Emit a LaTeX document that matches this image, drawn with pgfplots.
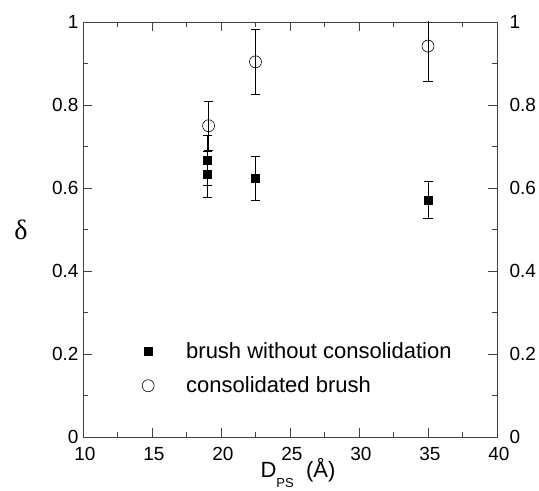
\documentclass[border=0pt]{standalone}
\usepackage{pgfplots}
\pgfplotsset{compat=1.18}
\usepackage{fontspec}
\setmainfont{Liberation Sans}
\newfontfamily\seriffont{Liberation Serif}

\pgfplotstableread{
x y e
19 0.667 0.060
19 0.633 0.056
22.5 0.623 0.053
35 0.571 0.044
}\brush
\pgfplotstableread{
x y e
19.1 0.750 0.060
22.5 0.904 0.078
35 0.942 0.085
}\consol

\begin{document}
\begin{tikzpicture}
\useasboundingbox (-83bp,-54bp) rectangle (456bp,437bp);
\begin{axis}[
  at={(0,0)}, anchor=south west,
  scale only axis, width=414bp, height=415bp,
  xmin=10, xmax=40, ymin=0, ymax=1,
  xtick={10,15,20,25,30,35,40},
  ytick={0,0.2,0.4,0.6,0.8,1},
  minor x tick num=1, minor y tick num=1,
  tick align=inside,
  major tick length=9bp, minor tick length=5bp,
  axis line style={black!75, line width=0.6bp},
  tick style={black!75, line width=0.6bp},
  ticklabel style={font=\fontsize{19bp}{21bp}\selectfont},
  /pgf/number format/assume math mode=true,
  xticklabel style={yshift=-7bp, xshift=2bp},
  yticklabel style={xshift=-1bp},
  xlabel={D\raisebox{-10bp}{\fontsize{13bp}{13bp}\selectfont PS}\ \ (Å)},
  xlabel style={font=\fontsize{22bp}{24bp}\selectfont, at={(rel axis cs:0.5,0)}, anchor=base, yshift=-40bp, xshift=8bp},
  ylabel={\fontsize{28bp}{28bp}\selectfont\seriffont δ},
  ylabel style={rotate=-90, at={(rel axis cs:0,0.5)}, anchor=center, xshift=-62bp},
  legend style={draw=none, fill=none, inner sep=0pt, nodes={inner sep=0pt},
    at={(rel axis cs:0.1425,0.228)}, anchor=north west, row sep=17bp,
    font=\fontsize{22bp}{24bp}\selectfont},
  legend cell align=left,
  legend image code/.code={\path[draw=none, fill=none] (-5bp,0bp) -- (38bp,0bp); \draw[#1] plot coordinates {(0bp,0bp)};},
]
\addplot[only marks, mark=square*, mark size=4bp, mark options={fill=black, draw=black},
  error bars/.cd, y dir=both, y explicit,
  error bar style={black, line width=0.6bp},
  error mark options={rotate=90, mark size=4.5bp, black, line width=0.6bp}]
  table[x=x, y=y, y error=e] {\brush};
\addlegendentry{brush without consolidation}
\addplot[only marks, mark=o, mark size=6bp, mark options={draw=black, fill=white, line width=0.6bp},
  error bars/.cd, y dir=both, y explicit,
  error bar style={black, line width=0.6bp},
  error mark options={rotate=90, mark size=4.5bp, black, line width=0.6bp}]
  table[x=x, y=y, y error=e] {\consol};
\addlegendentry{consolidated brush}
\end{axis}
\begin{axis}[
  at={(0,0)}, anchor=south west,
  scale only axis, width=414bp, height=415bp,
  xmin=10, xmax=40, ymin=0, ymax=1,
  hide x axis, axis y line*=right,
  y axis line style={draw=none},
  ytick={0,0.2,0.4,0.6,0.8,1},
  major tick length=0pt, minor tick length=0pt,
  ticklabel style={font=\fontsize{19bp}{21bp}\selectfont},
  /pgf/number format/assume math mode=true,
  yticklabel style={xshift=9bp},
]
\end{axis}
\end{tikzpicture}
\end{document}
